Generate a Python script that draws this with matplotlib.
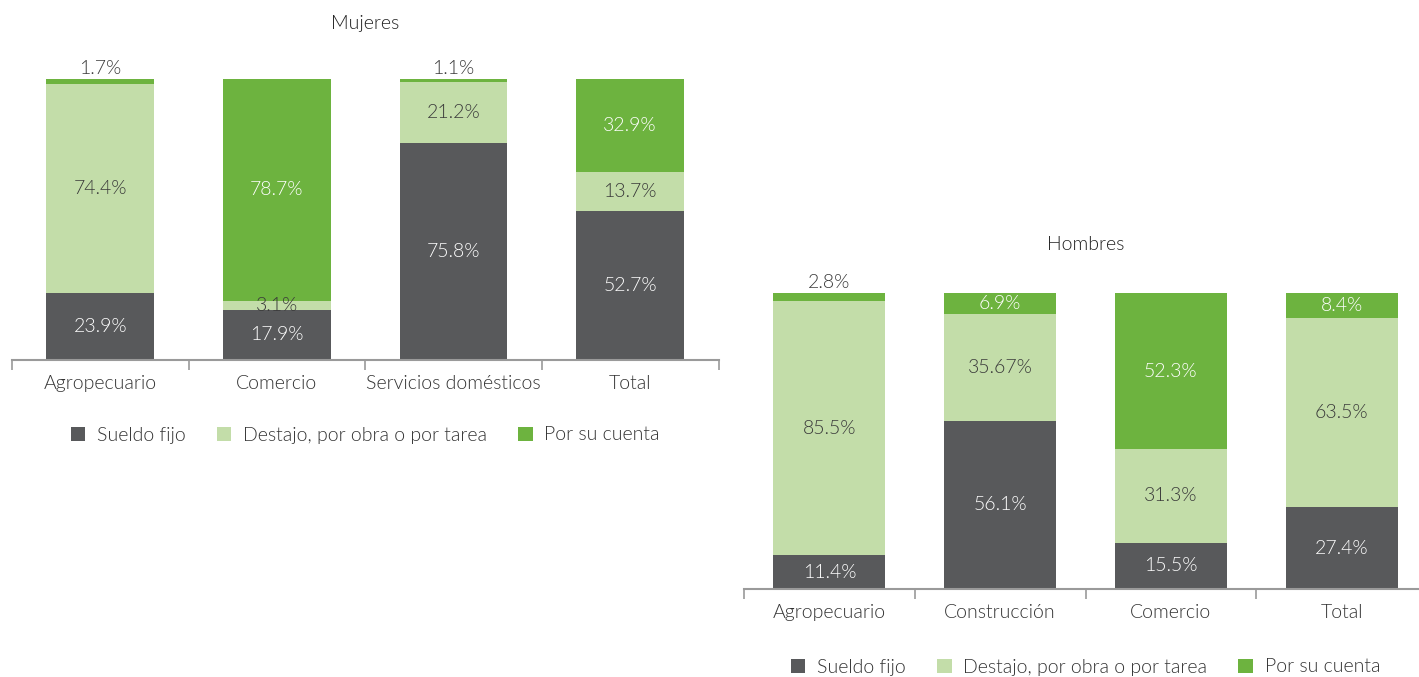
import matplotlib
matplotlib.use("Agg")
import matplotlib.pyplot as plt
import numpy as np

plt.rcParams["font.family"] = ["Lato", "DejaVu Sans"]
plt.rcParams["font.weight"] = 300

# data
series = ["Sueldo fijo", "Destajo, por obra o por tarea", "Por su cuenta"]
colors = ["#58595B", "#C3DDA9", "#6DB33F"]
text_colors = ["white", "#3a3a3a", "white"]

muj_cats = ["Agropecuario", "Comercio", "Servicios domésticos", "Total"]
muj_sueldo = [23.9, 17.9, 75.8, 52.7]
muj_destajo = [74.4, 3.1, 21.2, 13.7]
muj_cuenta = [1.7, 78.7, 1.1, 32.9]

hom_cats = ["Agropecuario", "Construcción", "Comercio", "Total"]
hom_sueldo = [11.4, 56.1, 15.5, 27.4]
hom_destajo = [85.5, 35.67, 31.3, 63.5]
hom_cuenta = [2.8, 6.9, 52.3, 8.4]

fig = plt.figure(figsize=(14.19, 6.77), dpi=100)
W, H = 1419, 677
FS = 14


def add_ax(x0, x1, ybot, ytop):
    return fig.add_axes([x0 / W, 1 - ybot / H, (x1 - x0) / W, (ybot - ytop) / H])


def draw(ax, cats, vals, title, width, legend_y, title_y):
    vals = np.array(vals, dtype=float)
    totals = vals.sum(axis=0)
    fr = vals / totals
    x = np.arange(len(cats))
    bottom = np.zeros(len(cats))
    for i, name in enumerate(series):
        ax.bar(x, fr[i], width, bottom=bottom, color=colors[i], label=name,
               linewidth=0)
        for j in range(len(cats)):
            v = vals[i, j]
            if v < 3.0:
                ax.text(x[j], 1.0 + 0.006, f"{v:g}%", ha="center", va="bottom",
                        fontsize=FS, color="#3a3a3a")
            else:
                ax.text(x[j], bottom[j] + fr[i, j] / 2, f"{v:g}%", ha="center",
                        va="center", fontsize=FS, color=text_colors[i])
        bottom += fr[i]

    ax.set_xlim(-0.5, len(cats) - 0.5)
    ax.set_ylim(0, 1)
    ax.set_xticks(x)
    ax.set_xticklabels(cats, fontsize=FS, color="#333333")
    ax.set_xticks(np.arange(len(cats) + 1) - 0.5, minor=True)
    ax.tick_params(axis="x", which="major", length=0, pad=11)
    ax.tick_params(axis="x", which="minor", length=7, width=1.2, color="#9a9a9a")
    ax.set_yticks([])
    for s in ["top", "right", "left"]:
        ax.spines[s].set_visible(False)
    ax.spines["bottom"].set_color("#9a9a9a")
    ax.spines["bottom"].set_linewidth(1.5)
    ax.set_title(title, fontsize=FS, color="#222222", pad=0, y=title_y,
                 va="center", fontweight=300)
    ax.legend(loc="center", bbox_to_anchor=(0.5, legend_y), ncol=3,
              frameon=False, fontsize=FS, handlelength=0.75,
              handleheight=0.75, handletextpad=0.6, columnspacing=1.6,
              labelcolor="#333333")
    return ax


ax1 = add_ax(12, 718.5, 360, 79)
draw(ax1, muj_cats, [muj_sueldo, muj_destajo, muj_cuenta], "Mujeres", 0.61,
     -(435 - 360) / 281, 1 + (79 - 23) / 281)

ax2 = add_ax(744, 1427, 589, 293)
draw(ax2, hom_cats, [hom_sueldo, hom_destajo, hom_cuenta], "Hombres", 0.656,
     -(667 - 589) / 296, 1 + (293 - 244) / 296)

fig.savefig("out.png", dpi=100)
